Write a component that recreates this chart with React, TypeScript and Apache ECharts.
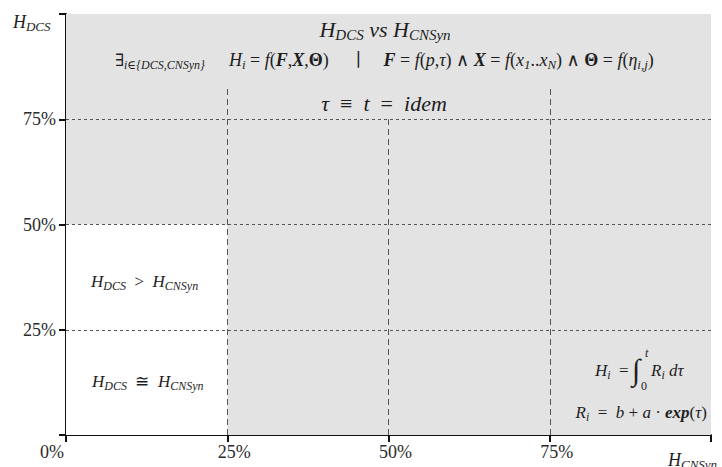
import React, { useEffect, useRef } from 'react';
import * as echarts from 'echarts';

// ---- data ----
const axisMin = 0;
const axisMax = 100;
const tickStep = 25;
const hiddenTick = 100;
const shadedX = [0, 100];
const shadedY = [0, 100];
const clearX = [0, 25];
const clearY = [0, 50];
const hLines = [25, 50, 75];
const vLines = [25, 50, 75];
const vLineTops = [83, 75, 83];

const FF = "'Liberation Serif', 'DejaVu Serif', serif";
const INK = '#1e1e1e';

function mathRich(size: number) {
  const sub = Math.round(size * 0.7);
  return {
    m: { fontSize: size, fontStyle: 'italic', fontFamily: FF, fill: INK, color: INK, lineHeight: size + 4 },
    u: { fontSize: size, fontStyle: 'normal', fontFamily: FF, fill: INK, color: INK, lineHeight: size + 4 },
    b: { fontSize: size, fontStyle: 'italic', fontWeight: 'bold', fontFamily: FF, fill: INK, color: INK, lineHeight: size + 4 },
    bu: { fontSize: size, fontStyle: 'normal', fontWeight: 'bold', fontFamily: FF, fill: INK, color: INK, lineHeight: size + 4 },
    s: { fontSize: sub, fontStyle: 'italic', fontFamily: FF, fill: INK, color: INK, lineHeight: sub, verticalAlign: 'bottom' },
  };
}

function mathText(x: number, y: number, text: string, size: number, align: string) {
  return {
    type: 'text',
    x,
    y,
    z: 100,
    silent: true,
    style: {
      text,
      rich: mathRich(size),
      font: `italic ${size}px ${FF}`,
      fill: INK,
      textAlign: align,
      textVerticalAlign: 'middle',
    },
  };
}

function plainText(x: number, y: number, text: string, size: number, italic: boolean, align: string) {
  return {
    type: 'text',
    x,
    y,
    z: 100,
    silent: true,
    style: {
      text,
      font: `${italic ? 'italic ' : ''}${size}px ${FF}`,
      fill: INK,
      textAlign: align,
      textVerticalAlign: 'middle',
    },
  };
}

export default function App() {
  const ref = useRef<HTMLDivElement>(null);
  useEffect(() => {
    if (!ref.current) return;
    const chart = echarts.init(ref.current, undefined, { renderer: 'svg' });
    const axisCommon = {
      type: 'value',
      min: axisMin,
      max: axisMax,
      interval: tickStep,
      axisLine: { show: true, onZero: false, lineStyle: { color: '#111', width: 2 } },
      axisTick: { show: true, inside: false, length: 7, lineStyle: { color: '#111', width: 2 } },
      splitLine: { show: false },
    };
    chart.setOption({
      animation: false,
      grid: { left: 66, right: 11, top: 14, bottom: 32, containLabel: false },
      xAxis: {
        ...axisCommon,
        axisLabel: {
          margin: 8,
          fontFamily: FF,
          fontSize: 18,
          color: '#2a2a2a',
          formatter: (v: number) => (v === hiddenTick ? '' : v === axisMin ? `{z|${v}%}` : `{n|${v}%}`),
          rich: {
            z: { fontFamily: FF, fontSize: 18, color: '#2a2a2a', padding: [0, 28, 0, 0] },
            n: { fontFamily: FF, fontSize: 18, color: '#2a2a2a', padding: [0, 0, 0, 14] },
          },
        },
      },
      yAxis: {
        ...axisCommon,
        axisLabel: {
          margin: 10,
          fontFamily: FF,
          fontSize: 18,
          color: '#2a2a2a',
          formatter: (v: number) => (v === hiddenTick || v === axisMin ? '' : `${v}%`),
        },
      },
      series: [
        {
          type: 'line',
          data: [],
          z: 1,
          silent: true,
          markArea: {
            silent: true,
            data: [
              [
                { coord: [shadedX[0], shadedY[0]], itemStyle: { color: '#e3e3e3' } },
                { coord: [shadedX[1], shadedY[1]] },
              ],
              [
                { coord: [clearX[0], clearY[0]], itemStyle: { color: '#ffffff' } },
                { coord: [clearX[1], clearY[1]] },
              ],
            ],
          },
        },
        {
          type: 'line',
          data: [],
          z: 3,
          silent: true,
          markLine: {
            silent: true,
            symbol: 'none',
            label: { show: false },
            data: [
              ...hLines.map((y) => [
                { coord: [axisMin, y], lineStyle: { color: '#555', width: 1, type: [3, 3] } },
                { coord: [axisMax, y] },
              ]),
              ...vLines.map((x, i) => [
                { coord: [x, axisMin], lineStyle: { color: '#555', width: 1, type: [6, 4] } },
                { coord: [x, vLineTops[i]] },
              ]),
            ],
          },
        },
      ],
      graphic: [
        mathText(13, 22, '{m|H}{s|DCS}', 18, 'left'),
        mathText(668, 460, '{m|H}{s|CNSyn}', 18, 'left'),
        mathText(385, 29, '{m|H}{s|DCS}{m| vs H}{s|CNSyn}', 22, 'center'),
        plainText(115, 60, '∃', 17, false, 'left'),
        plainText(124, 65, 'i∈{DCS,CNSyn}', 12, true, 'left'),
        mathText(
          229,
          60,
          '{m|H}{s|i}{u| = }{m|f}{u|(}{b|F}{u|,}{b|X}{u|,}{bu|Θ}{u|)      ∣     }{b|F}{u| = }{m|f}{u|(}{m|p}{u|,}{m|τ}{u|) ∧ }{b|X}{u| = }{m|f}{u|(}{m|x}{s|1}{u|..}{m|x}{s|N}{u|) ∧ }{bu|Θ}{u| = }{m|f}{u|(}{m|η}{s|i,j}{u|)}',
          18,
          'left'
        ),
        mathText(384, 103, '{m|τ}{u|  ≡  }{m|t}{u|  =  }{m|idem}', 22, 'center'),
        mathText(91, 281, '{m|H}{s|DCS}{u|  >  }{m|H}{s|CNSyn}', 17, 'left'),
        mathText(92, 381, '{m|H}{s|DCS}{u|  ≅  }{m|H}{s|CNSyn}', 17, 'left'),
        mathText(595, 370, '{m|H}{s|i}{u|  =}', 17, 'left'),
        plainText(632, 369, '∫', 30, false, 'left'),
        plainText(645, 353, 't', 12, true, 'left'),
        plainText(641, 386, '0', 12, false, 'left'),
        mathText(651, 370, '{m|R}{s|i}{m| d}{m|τ}', 17, 'left'),
        mathText(707, 412, '{m|R}{s|i}{u|  =  }{m|b}{u| + }{m|a}{u| · }{b|exp}{u|(}{m|τ}{u|)}', 17, 'right'),
      ],
    });
    return () => chart.dispose();
  }, []);
  return <div ref={ref} style={{ width: 722, height: 467, position: 'absolute', left: 0, top: 0 }} />;
}
